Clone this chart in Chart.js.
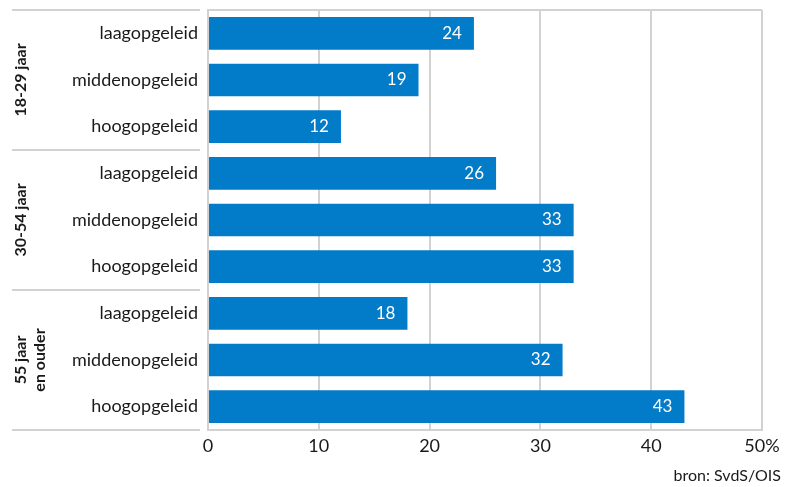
<!DOCTYPE html>
<html>
<head>
<meta charset="utf-8">
<script src="https://cdn.jsdelivr.net/npm/chart.js@4"></script>
<style>
  html, body { margin: 0; padding: 0; background: #fff; }
  #wrap { width: 799px; height: 487px; position: relative; }
</style>
</head>
<body>
<div id="wrap"><canvas id="chart"></canvas></div>
<script>
const categories = [
  "laagopgeleid", "middenopgeleid", "hoogopgeleid",
  "laagopgeleid", "middenopgeleid", "hoogopgeleid",
  "laagopgeleid", "middenopgeleid", "hoogopgeleid"
];
const values = [24, 19, 12, 26, 33, 33, 18, 32, 43];
const groups = [["18-29 jaar"], ["30-54 jaar"], ["55 jaar", "en ouder"]];
const groupSize = 3;
const xTicks = [0, 10, 20, 30, 40, 50];
const source = "bron: SvdS/OIS";

const FONT = "Lato, 'Open Sans', sans-serif";
const GRID = "#d2d2d2";
const TEXT = "#1a1a1a";

// group labels, separator lines, value labels, source line
const decor = {
  id: "decor",
  afterDatasetsDraw(chart) {
    const { ctx, chartArea, scales } = chart;
    const y = scales.y;
    const step = y.getPixelForValue(1) - y.getPixelForValue(0);

    ctx.save();
    // top border of plot
    ctx.strokeStyle = GRID;
    ctx.lineWidth = 2;
    ctx.beginPath();
    ctx.moveTo(chartArea.left, chartArea.top);
    ctx.lineTo(chartArea.right, chartArea.top);
    ctx.stroke();

    // separators left of the axis
    for (let g = 0; g <= groups.length; g++) {
      const py = Math.round(y.getPixelForValue(g * groupSize) - step / 2);
      ctx.beginPath();
      ctx.moveTo(12, py);
      ctx.lineTo(chartArea.left - 8, py);
      ctx.stroke();
    }

    // group labels
    ctx.fillStyle = TEXT;
    ctx.font = "bold 16px " + FONT;
    ctx.textAlign = "center";
    ctx.textBaseline = "middle";
    groups.forEach((lines, g) => {
      const cy = y.getPixelForValue(g * groupSize + (groupSize - 1) / 2);
      const lh = 19;
      lines.forEach((txt, i) => {
        const cx = 21 + i * lh;
        ctx.save();
        ctx.translate(cx, cy);
        ctx.rotate(-Math.PI / 2);
        ctx.fillText(txt, 0, 0);
        ctx.restore();
      });
    });

    // value labels inside bars
    ctx.fillStyle = "#fff";
    ctx.font = "17px " + FONT;
    ctx.textAlign = "right";
    chart.getDatasetMeta(0).data.forEach((bar, i) => {
      ctx.fillText(String(values[i]), bar.x - 12, bar.y);
    });

    // source
    ctx.fillStyle = TEXT;
    ctx.font = "16px " + FONT;
    ctx.textAlign = "right";
    ctx.fillText(source, 781, 476);
    ctx.restore();
  }
};

new Chart(document.getElementById("chart"), {
  type: "bar",
  data: {
    labels: categories,
    datasets: [{
      data: values,
      backgroundColor: "#027bc8",
      barPercentage: 0.7,
      categoryPercentage: 1
    }]
  },
  options: {
    indexAxis: "y",
    responsive: true,
    maintainAspectRatio: false,
    animation: false,
    layout: { padding: { top: 10, right: 37, bottom: 0, left: 0 } },
    plugins: { legend: { display: false }, tooltip: { enabled: false } },
    scales: {
      x: {
        min: 0,
        max: 50,
        afterBuildTicks: (s) => { s.ticks = xTicks.map(v => ({ value: v })); },
        afterFit: (s) => { s.height = 57; s.paddingLeft = 0; s.paddingRight = 0; },
        ticks: {
          color: TEXT,
          font: { family: FONT, size: 18 },
          padding: 5,
          callback: (v) => v === 50 ? "50%" : String(v)
        },
        grid: { color: GRID, lineWidth: 2, drawTicks: false },
        border: { color: GRID, width: 2 }
      },
      y: {
        afterFit: (s) => { s.width = 208; s.paddingTop = 0; s.paddingBottom = 0; },
        ticks: {
          color: TEXT,
          font: { family: FONT, size: 18 },
          padding: 10
        },
        grid: { display: false, drawTicks: false },
        border: { color: GRID, width: 2 }
      }
    }
  },
  plugins: [decor]
});
</script>
</body>
</html>
